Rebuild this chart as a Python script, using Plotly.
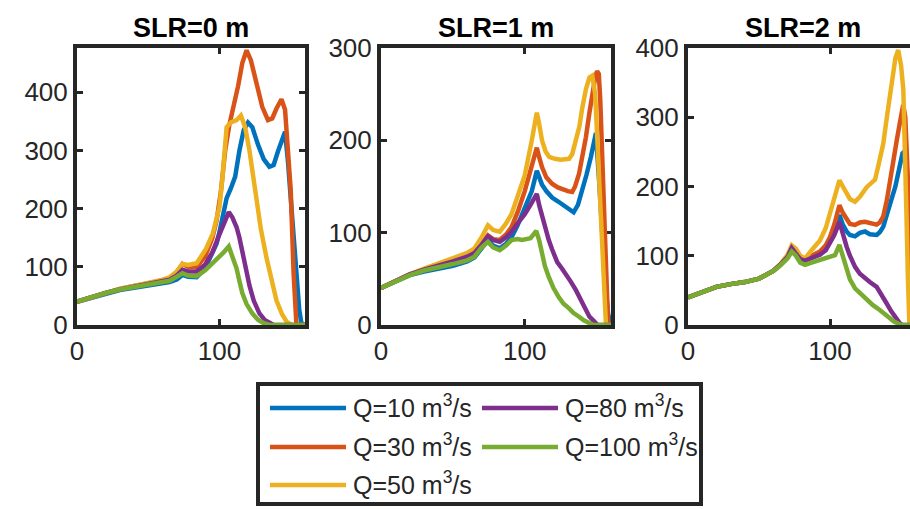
import plotly.graph_objects as go

# ---------------- data ----------------
panel_titles = ["SLR=0 m", "SLR=1 m", "SLR=2 m"]
series_names = ["Q=10 m<sup>3</sup>/s", "Q=30 m<sup>3</sup>/s", "Q=50 m<sup>3</sup>/s",
                "Q=80 m<sup>3</sup>/s", "Q=100 m<sup>3</sup>/s"]
series_colors = ["#0072BD", "#D95319", "#EDB120", "#7E2F8E", "#77AC30"]
x_ticks = [0, 100]
y_ticks = [[0, 100, 200, 300, 400], [0, 100, 200, 300], [0, 100, 200, 300, 400]]
x_ranges = [[0, 160], [0, 160], [0, 156.3]]
y_ranges = [[0, 476], [0, 300], [0, 400]]

# SLR = 0 m
slr0_q10_x = [0, 10, 20, 30, 40, 50, 60, 65, 70, 74, 78, 84, 90, 95, 98, 100, 103, 105, 108, 111, 114, 117, 120, 123,
              127, 131, 135, 138, 141, 144, 146, 148, 150, 152, 154, 156, 157.5, 160]
slr0_q10_y = [40, 47, 54, 60, 64, 68, 72, 74, 78, 86, 83, 82, 98, 125, 140, 160, 200, 218, 235, 255, 300, 335, 348, 340,
              310, 285, 272, 275, 298, 322, 332, 282, 212, 140, 75, 25, 3, 0]
slr0_q30_x = [0, 10, 20, 30, 40, 50, 60, 65, 70, 74, 78, 84, 90, 95, 98, 101, 104, 107, 110, 113, 116, 119, 122, 126,
              130, 134, 137, 140, 143.5, 146, 148, 150, 152, 154, 160]
slr0_q30_y = [40, 48, 56, 62, 67, 71, 76, 80, 90, 105, 100, 100, 118, 150, 180, 230, 300, 345, 375, 410, 450, 472, 455, 415,
              375, 352, 355, 372, 388, 370, 300, 231, 89, 0, 0]
slr0_q50_x = [0, 10, 20, 30, 40, 50, 60, 65, 70, 74, 78, 84, 87, 90.6, 95.3, 100, 102.3, 105, 108, 112, 115, 118, 121,
              124, 126, 129, 133, 136, 140, 144, 147, 150, 152, 160]
slr0_q50_y = [40, 48, 56, 62, 67, 72, 78, 82, 92, 105, 103, 106, 117, 131, 157, 203, 260, 340, 348, 352, 360, 340, 300,
              250, 212, 165, 115, 80, 42, 18, 6, 1, 0, 0]
slr0_q80_x = [0, 10, 20, 30, 40, 50, 60, 65, 70, 74, 78, 84, 90, 95, 99, 102, 104, 106.5, 109, 112, 114, 116, 118, 121,
              124, 128, 132, 135, 138, 160]
slr0_q80_y = [40, 48, 55, 61, 66, 70, 75, 78, 85, 95, 92, 92, 104, 125, 150, 168, 183, 194, 185, 168, 150, 126, 100, 68,
              42, 20, 8, 3, 0, 0]
slr0_q100_x = [0, 10, 20, 30, 40, 50, 60, 65, 70, 74, 78, 84, 90, 95, 100, 103, 106.5, 109, 112, 114, 116, 119, 123,
               127, 131, 135, 160]
slr0_q100_y = [40, 48, 55, 61, 65, 69, 73, 76, 83, 89, 85, 84, 94, 105, 117, 125, 135, 120, 97, 75, 55, 36, 20,
               9, 3, 0, 0]

# SLR = 1 m
slr1_q10_x = [0, 10, 20, 30, 40, 50, 60, 65, 70, 74.4, 78, 82.6, 87, 90.8, 95, 100, 104.9, 108.4, 110, 112, 115, 119,
              123, 126, 130, 134, 137, 140, 143, 146, 149.5, 152, 154, 156, 158, 160]
slr1_q10_y = [40, 47, 54, 58, 61, 64, 69, 73, 83, 92, 86, 83, 88, 95, 108, 127, 145, 167, 160, 152, 145, 138,
              134, 131, 126, 122, 130, 145, 163, 182, 208, 150, 95, 45, 12, 0]
slr1_q30_x = [0, 10, 20, 30, 40, 50, 60, 65, 70, 74.4, 78, 82.6, 87, 90.8, 95, 100, 104.9, 108.4, 110, 112, 115, 119,
              123, 126, 130, 133, 135, 137.8, 140, 142.5, 145, 147, 149, 150.3, 151.5, 152.5, 154, 155.5, 157, 158, 160]
slr1_q30_y = [40, 48, 55, 60, 65, 70, 76, 80, 88, 97, 93, 92, 98, 106, 122, 145, 171, 192, 182, 171, 160, 153,
              149, 147, 145, 144, 150, 164, 180, 203, 230, 253, 268, 275, 272, 245, 180, 100, 30, 0, 0]
slr1_q50_x = [0, 10, 20, 30, 40, 50, 60, 65, 70, 74.4, 78, 82.6, 87, 90.8, 95, 100, 104.9, 108.4, 110, 112, 114.5,
              117, 121, 125, 130.8, 133, 135.5, 138, 140, 142.5, 145, 147, 149, 151, 153, 155, 156.5, 160]
slr1_q50_y = [40, 48, 55, 61, 67, 72, 78, 83, 95, 108, 103, 101, 110, 120, 138, 162, 200, 230, 218, 200, 188,
              182, 180, 179, 180, 185, 200, 215, 235, 255, 268, 270, 250, 180, 100, 30, 0, 0]
slr1_q80_x = [0, 10, 20, 30, 40, 50, 60, 65, 70, 74.4, 78, 82.6, 87, 90.8, 95, 100, 104, 106.5, 108.4, 110, 112, 114,
              116.7, 119, 122.6, 126, 128.4, 132, 135.5, 139, 142.5, 145, 148.3, 150.7, 160]
slr1_q80_y = [40, 48, 55, 60, 64, 69, 74, 78, 87, 96, 92, 90, 95, 101, 110, 120, 130, 138, 142, 130, 118, 105,
              92, 82, 68, 61, 56, 47, 38, 27, 16, 9, 4, 0, 0]
slr1_q100_x = [0, 10, 20, 30, 40, 50, 60, 65, 70, 74.4, 78, 82.6, 87, 90.8, 95, 98, 101, 104, 106, 108, 110, 112, 114,
               116.7, 120, 123.7, 127, 130.8, 134, 137.8, 141, 145, 148, 160]
slr1_q100_y = [40, 47, 54, 59, 62, 66, 70, 74, 84, 90, 84, 81, 86, 92, 93, 92, 93, 94, 98, 102, 92, 77, 64,
               52, 40, 30, 23, 18, 13, 9, 5, 2, 0, 0]

# SLR = 2 m
slr2_q10_x = [0, 10, 20, 30, 40, 50, 60, 65, 70, 73, 76, 79, 82.4, 87, 92.9, 97, 100, 103, 106.6, 109, 111.7, 114,
              117.6, 121, 124.6, 128, 132.8, 135, 137.5, 140, 143.4, 146, 148, 151, 153, 155, 157, 158.5, 160]
slr2_q10_y = [40, 48, 55, 59, 62, 67, 78, 87, 98, 108, 103, 95, 93, 98, 104.5, 113, 124, 138, 159, 145, 135, 130,
              128, 133, 135, 131, 130, 134, 142, 158, 181, 200, 219, 248, 252, 200, 80, 0, 0]
slr2_q30_x = [0, 10, 20, 30, 40, 50, 60, 65, 70, 73, 76, 79, 82.4, 87, 92.9, 97, 100, 103, 106.6, 109, 111.7, 114,
              117.6, 121, 124.6, 128, 132.8, 135, 137.5, 140, 142.2, 145, 147, 149, 150.5, 151.5, 153, 155, 157, 158, 160]
slr2_q30_y = [40, 48, 55, 59, 62, 67, 78, 87, 99, 111, 105, 96, 95, 100, 106, 115, 127, 145, 173, 162, 152, 146,
              144.5, 148, 149, 147, 145, 148, 157, 180, 210, 240, 267, 290, 313, 318, 300, 200, 50, 0, 0]
slr2_q50_x = [0, 10, 20, 30, 40, 50, 60, 65, 70, 73, 76, 79, 82.4, 87, 92.9, 97, 100, 103, 106.6, 109, 111.7, 114,
              117.6, 121, 125.8, 129, 131.7, 134, 137.5, 140, 143.4, 146, 148, 150, 151.6, 152.8, 153.8, 154.8, 155.8,
              157, 160]
slr2_q50_y = [40, 48, 55, 59, 62, 67, 78, 88, 101, 115, 110, 100, 96, 108, 122, 140, 161, 185, 209, 200, 190, 182,
              178, 185, 199, 204, 210, 230, 262, 300, 349, 385, 397, 375, 340, 260, 160, 70, 5,
              0, 0]
slr2_q80_x = [0, 10, 20, 30, 40, 50, 60, 65, 70, 73, 76, 79, 82.4, 87, 92.9, 97, 100, 103, 106.6, 109, 111.7, 114,
              117.6, 121, 124.6, 128, 132.8, 136, 139.9, 143, 145.7, 148, 149.3, 151, 160]
slr2_q80_y = [40, 48, 55, 59, 62, 67, 78, 87, 98, 111, 104, 95, 93, 96, 101.5, 108, 118.5, 130, 149, 130, 113, 100,
              84, 74, 67, 62, 55, 45, 31, 20, 12, 5, 2, 0, 0]
slr2_q100_x = [0, 10, 20, 30, 40, 50, 60, 65, 70, 73, 76, 79, 82.4, 87, 92.9, 97, 100, 103.5, 106.6, 109, 111.7, 114,
               117.6, 121, 125.8, 130, 135, 138.5, 142.2, 145, 148, 150, 160]
slr2_q100_y = [40, 48, 55, 59, 62, 67, 78, 86, 96, 106, 100, 90, 87, 90, 94, 97, 99, 101, 115.6, 98, 79.5, 66,
               53, 46, 36, 29, 21.7, 15, 9.6, 5, 2, 0, 0]

panels_x = [[slr0_q10_x, slr0_q30_x, slr0_q50_x, slr0_q80_x, slr0_q100_x],
            [slr1_q10_x, slr1_q30_x, slr1_q50_x, slr1_q80_x, slr1_q100_x],
            [slr2_q10_x, slr2_q30_x, slr2_q50_x, slr2_q80_x, slr2_q100_x]]
panels_y = [[slr0_q10_y, slr0_q30_y, slr0_q50_y, slr0_q80_y, slr0_q100_y],
            [slr1_q10_y, slr1_q30_y, slr1_q50_y, slr1_q80_y, slr1_q100_y],
            [slr2_q10_y, slr2_q30_y, slr2_q50_y, slr2_q80_y, slr2_q100_y]]

for px, py in zip(panels_x, panels_y):
    for a, b in zip(px, py):
        assert len(a) == len(b), (len(a), len(b))

# ---------------- layout ----------------
W, H = 910, 509
FONT = "Liberation Sans, Arial, Helvetica, sans-serif"
INK = "#262626"


def fx(p):
    return p / W


def fy(p):
    return 1 - p / H


x_dom_px = [(77, 305), (381, 611), (688, 910)]
title_cx = [191, 496, 803]
y_dom = [fy(325), fy(48)]

fig = go.Figure()
layout = dict(width=W, height=H, autosize=False, margin=dict(l=0, r=0, t=0, b=0, pad=0),
              paper_bgcolor="white", plot_bgcolor="white", showlegend=False)

annotations = []
shapes = []
for k in range(3):
    sfx = "" if k == 0 else str(k + 1)
    for j in range(5):
        fig.add_trace(go.Scatter(x=panels_x[k][j], y=panels_y[k][j], mode="lines",
                                 line=dict(color=series_colors[j], width=4.5),
                                 xaxis="x" + sfx, yaxis="y" + sfx,
                                 hoverinfo="skip", showlegend=False))
    common = dict(ticks="inside", ticklen=6, tickwidth=3, tickcolor=INK,
                  showline=True, linewidth=4, linecolor=INK, automargin=False,
                  showgrid=False, zeroline=False, fixedrange=True,
                  tickfont=dict(family=FONT, size=26, color=INK),
                  layer="below traces")
    layout["xaxis" + sfx] = dict(domain=[fx(x_dom_px[k][0]), fx(x_dom_px[k][1])],
                                 range=x_ranges[k], tickvals=x_ticks,
                                 anchor="y" + sfx, mirror="ticks",
                                 ticklabelstandoff=0, **common)
    layout["yaxis" + sfx] = dict(domain=y_dom, range=y_ranges[k], tickvals=y_ticks[k],
                                 anchor="x" + sfx, mirror=("ticks" if k < 2 else False),
                                 ticklabelstandoff=0, **common)
    annotations.append(dict(text="<b>" + panel_titles[k] + "</b>", xref="paper", yref="paper",
                            x=fx(title_cx[k]), y=fy(28), xanchor="center", yanchor="middle",
                            showarrow=False, font=dict(family=FONT, size=27, color="black")))

# legend box (MATLAB style, two columns filled column-wise)
shapes.append(dict(type="rect", xref="paper", yref="paper", x0=fx(258), x1=fx(701), y0=fy(504), y1=fy(384),
                   line=dict(color=INK, width=4), fillcolor="white", layer="above"))
leg_pos = [(270, 408), (270, 447), (270, 485), (482, 408), (482, 447)]
for j, (lx, ly) in enumerate(leg_pos):
    shapes.append(dict(type="line", xref="paper", yref="paper", x0=fx(lx), x1=fx(lx + 76), y0=fy(ly), y1=fy(ly),
                       line=dict(color=series_colors[j], width=4.5), layer="above"))
    annotations.append(dict(text=series_names[j], xref="paper", yref="paper", x=fx(lx + 81), y=fy(ly - 2),
                            xanchor="left", yanchor="middle", showarrow=False,
                            font=dict(family=FONT, size=25, color=INK)))

layout["annotations"] = annotations
layout["shapes"] = shapes
fig.update_layout(**layout)
fig.write_html("out.html", config={"displayModeBar": False, "staticPlot": True},
               post_script="document.body.style.margin='0';document.body.style.overflow='hidden';")
